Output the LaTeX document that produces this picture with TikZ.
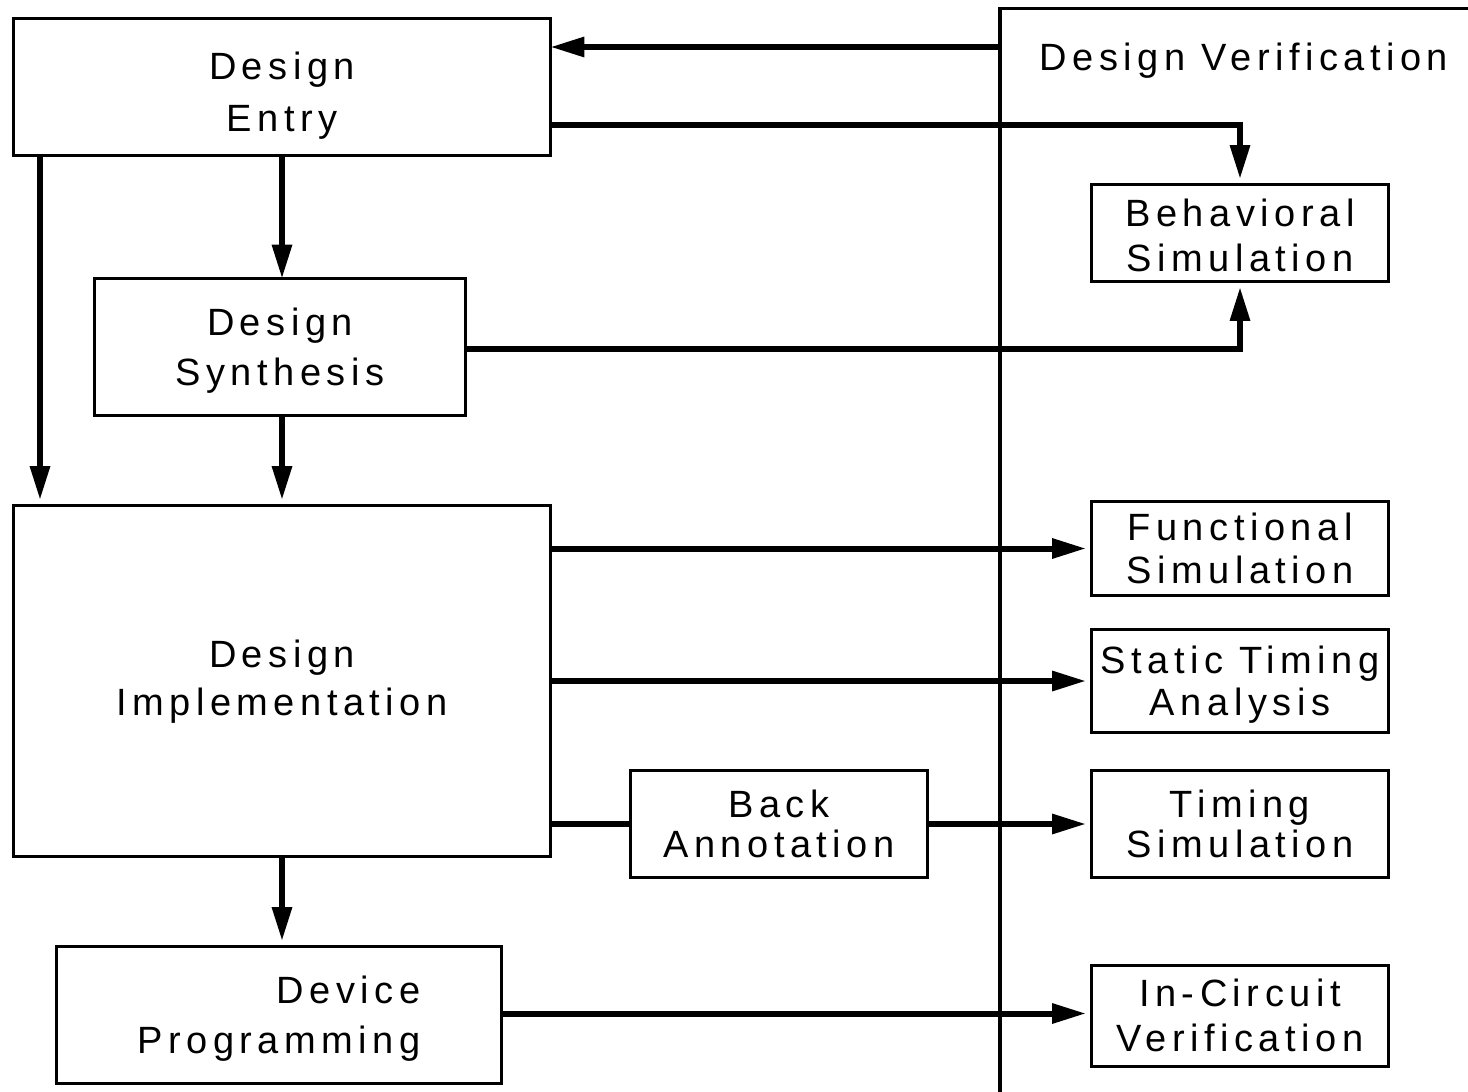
\documentclass[tikz,border=0pt]{standalone}
\usepackage{fontspec}
\setmainfont{Liberation Sans}[LetterSpace=14.5]
\usetikzlibrary{arrows.meta,calc}

% struts fixing the top of the first line and the bottom of the last line
\newcommand{\topst}[1][0pt]{\rule{0pt}{\dimexpr0.95em+#1\relax}}
\newcommand{\botst}[1][0pt]{\rule[\dimexpr-0.25em-#1\relax]{0pt}{\dimexpr0.25em+#1\relax}}

\tikzset{
  blk/.style={draw, line width=1.7pt, inner sep=0pt, outer sep=0pt,
    align=center, font=\fontsize{19pt}{#1}\selectfont},
  blk/.default=23pt,
  flow/.style={line width=3pt, -{Triangle[length=17pt,width=9.5pt]}},
  gapped/.style={shorten >=2.8pt},
  plain/.style={line width=3pt},
  frame/.style={line width=1.7pt}
}

\begin{document}
\begin{tikzpicture}[x=0.5pt, y=-0.5pt]
  \fill[white] (0,0) rectangle (1468,1092);
  \useasboundingbox (0,0) rectangle (1468,1092);

  % verification region border
  \coordinate (dvtop) at (1000,8.5);
  \coordinate (dvright) at (1468,8.5);
  \coordinate (dvbottom) at (1000,1092);
  \draw[frame] (dvright) -- (dvtop) -- (dvbottom);
  \node[anchor=base, font=\fontsize{19pt}{23pt}\selectfont, inner sep=0pt]
    (dvlabel) at (1244,70) {Design Verification};

  % design flow blocks
  \node[blk=26pt, minimum width=268.3pt, minimum height=68.3pt]
    (entry) at (282,87) {\topst[5.5pt]Design\\Entry\botst};
  \node[blk=25pt, minimum width=185.3pt, minimum height=68.3pt]
    (synth) at (280,347) {\topst Design\\Synthesis\botst};
  \node[blk=24pt, minimum width=268.3pt, minimum height=175.3pt]
    (impl) at (282,681) {\topst Design\\Implementation\botst[2.5pt]};
  \node[blk=25pt, align=right, minimum width=222.3pt, minimum height=68.3pt]
    (prog) at (279,1015) {\topst Device\\Programming\botst};
  \node[blk=20pt, minimum width=148.3pt, minimum height=53.3pt]
    (back) at (779,824) {\topst Back\\Annotation\botst};

  % verification blocks
  \node[blk=22.5pt, minimum width=148.3pt, minimum height=48.3pt]
    (beh) at (1240,233) {\topst[3pt]Behavioral\\Simulation\botst};
  \node[blk=21.5pt, minimum width=148.3pt, minimum height=46.8pt]
    (func) at (1240,548.5) {\topst Functional\\Simulation\botst};
  \node[blk=21pt, minimum width=148.3pt, minimum height=51.3pt]
    (sta) at (1240,681) {\topst Static Timing\\Analysis\botst};
  \node[blk=20pt, minimum width=148.3pt, minimum height=53.3pt]
    (tim) at (1240,824) {\topst Timing\\Simulation\botst};
  \node[blk=22.5pt, minimum width=148.3pt, minimum height=50.3pt]
    (icv) at (1240,1016) {\topst In-Circuit\\Verification\botst};

  % connectors
  \coordinate (dvin) at (1000,47);
  \draw[flow] (dvin) -- (dvin -| entry.east);
  \draw[flow, gapped] ([yshift=-19pt]entry.east) -| (beh.north);
  \draw[flow] (entry.south) -- (entry.south |- synth.north);
  \draw[flow, gapped] ([xshift=-121pt]entry.south) -- ([xshift=-121pt]entry.south |- impl.north);
  \draw[flow, gapped] ([xshift=1pt]synth.south) -- ([xshift=1pt]synth.south |- impl.north);
  \draw[flow, gapped] ([yshift=-0.75pt]synth.east) -| (beh.south);
  \draw[flow, gapped] (impl.east |- func.west) -- (func.west);
  \draw[flow, gapped] (impl.east |- sta.west) -- (sta.west);
  \draw[plain] (impl.east |- back.west) -- (back.west);
  \draw[flow, gapped] (back.east) -- (tim.west);
  \draw[flow, gapped] (impl.south) -- (impl.south |- prog.north);
  \draw[flow, gapped] ([yshift=0.75pt]prog.east) -- ([yshift=0.75pt]prog.east -| icv.west);
\end{tikzpicture}
\end{document}
